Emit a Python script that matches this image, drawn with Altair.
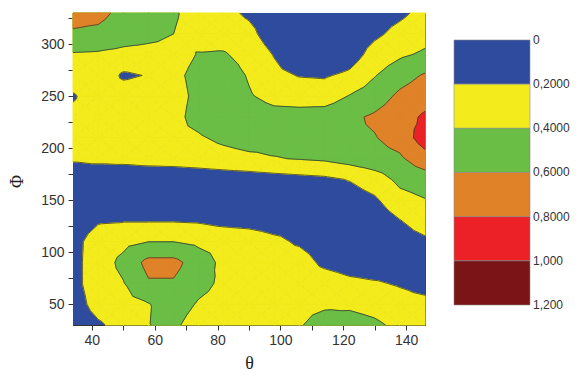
import altair as alt
import pandas as pd

# ---- data (grid of values) ----
theta = [34, 42, 50, 58, 66, 74, 82, 90, 98, 106, 114, 122, 130, 138, 146]
phi = [330, 310, 290, 270, 250, 230, 210, 190, 170, 150, 130, 110, 90, 70, 50, 30]
values = [
    [.66, .65, .55, .50, .42, .33, .25, .17, .08, .05, .05, .06, .10, .16, .26],   # 330
    [.58, .56, .50, .46, .40, .33, .30, .25, .10, .03, .02, .05, .16, .26, .33],   # 310
    [.38, .37, .34, .33, .33, .41, .42, .32, .19, .05, .02, .10, .28, .37, .43],   # 290
    [.30, .34, .17, .21, .36, .45, .52, .38, .25, .19, .18, .24, .39, .52, .62],   # 270
    [.18, .30, .30, .31, .34, .44, .55, .42, .33, .32, .30, .41, .50, .64, .72],   # 250
    [.25, .28, .30, .32, .35, .46, .55, .53, .48, .47, .50, .56, .63, .72, .83],   # 230
    [.28, .30, .32, .34, .37, .38, .44, .48, .47, .48, .52, .57, .59, .68, .90],   # 210
    [.22, .24, .25, .27, .28, .30, .33, .36, .39, .41, .43, .48, .53, .57, .72],   # 190
    [.10, .08, .07, .07, .07, .08, .09, .10, .12, .14, .16, .21, .30, .45, .50],   # 170
    [.05, .04, .04, .04, .04, .04, .05, .06, .07, .08, .09, .10, .17, .33, .39],   # 150
    [.08, .18, .19, .19, .19, .18, .14, .12, .10, .10, .06, .05, .08, .19, .30],   # 130
    [.13, .30, .35, .40, .40, .36, .35, .33, .25, .17, .08, .05, .05, .10, .16],   # 110
    [.14, .30, .45, .66, .66, .50, .35, .33, .30, .30, .15, .10, .08, .10, .08],   # 90
    [.14, .30, .39, .58, .58, .46, .36, .32, .33, .34, .32, .25, .22, .18, .12],   # 70
    [.10, .28, .33, .39, .50, .38, .33, .30, .33, .37, .38, .37, .34, .28, .26],   # 50
    [.05, .17, .28, .395, .44, .30, .30, .32, .35, .39, .45, .47, .43, .36, .32],  # 30
]
levels = [0.2, 0.4, 0.6, 0.8, 1.0]
band_colors = ["#2f4b9e", "#f3eb1b", "#6abd45", "#df8228", "#eb2127", "#7b1416"]
legend_edges = [0, 0.2, 0.4, 0.6, 0.8, 1.0, 1.2]
legend_labels = ["0", "0,2000", "0,4000", "0,6000", "0,8000", "1,000", "1,200"]
x_ticks = [40, 50, 60, 70, 80, 90, 100, 110, 120, 130, 140]
y_ticks = [50, 75, 100, 125, 150, 175, 200, 225, 250, 275, 300, 325]

# ---- contouring (linear interpolation on triangles) ----
tris = []
for r in range(len(phi) - 1):
    for c in range(len(theta) - 1):
        pts = [(theta[c], phi[r], values[r][c]),
               (theta[c + 1], phi[r], values[r][c + 1]),
               (theta[c + 1], phi[r + 1], values[r + 1][c + 1]),
               (theta[c], phi[r + 1], values[r + 1][c])]
        ctr = (sum(p[0] for p in pts) / 4, sum(p[1] for p in pts) / 4,
               sum(p[2] for p in pts) / 4)
        for k in range(4):
            tris.append([pts[k], pts[(k + 1) % 4], ctr])


def clip(tri, t):
    out, cross = [], []
    for i in range(3):
        p, q = tri[i], tri[(i + 1) % 3]
        pin, qin = p[2] >= t, q[2] >= t
        if pin:
            out.append((p[0], p[1]))
        if pin != qin:
            f = (t - p[2]) / (q[2] - p[2])
            pt = (p[0] + f * (q[0] - p[0]), p[1] + f * (q[1] - p[1]))
            out.append(pt)
            cross.append(pt)
    return out, cross


poly_frames = []
seg_rows = []
pid = 0
for li, t in enumerate(levels):
    rows = []
    for tri in tris:
        poly, cross = clip(tri, t)
        if len(poly) >= 3:
            for i, (a, b) in enumerate(poly + [poly[0]]):
                rows.append({"pid": pid, "i": i, "theta": a, "phi": b})
            pid += 1
        if len(cross) == 2:
            seg_rows.append({"t1": cross[0][0], "p1": cross[0][1],
                             "t2": cross[1][0], "p2": cross[1][1]})
    poly_frames.append(pd.DataFrame(rows))
seg_df = pd.DataFrame(seg_rows)

xscale = alt.Scale(domain=[min(theta), max(theta)], nice=False, zero=False)
yscale = alt.Scale(domain=[min(phi), max(phi)], nice=False, zero=False)
xaxis = alt.Axis(values=x_ticks, labelExpr="datum.value % 20 == 0 ? datum.label : ''",
                 grid=False, tickSize=5, labelPadding=3, title="θ",
                 titleFont="Liberation Serif", titleFontSize=18, titleFontWeight="normal",
                 titleColor="#222", titleY=38, titleBaseline="middle")
yaxis = alt.Axis(values=y_ticks, labelExpr="datum.value % 50 == 0 ? datum.label : ''",
                 grid=False, tickSize=5, labelPadding=4, title="Φ",
                 titleFont="Liberation Serif", titleFontSize=18, titleFontWeight="normal",
                 titleColor="#222", titleX=-56, titleY=168, titleBaseline="middle")

base_df = pd.DataFrame({"x0": [min(theta)], "x1": [max(theta)],
                        "y0": [min(phi)], "y1": [max(phi)]})
base = alt.Chart(base_df).mark_rect(color=band_colors[0]).encode(
    x=alt.X("x0:Q", scale=xscale, axis=xaxis), x2="x1:Q",
    y=alt.Y("y0:Q", scale=yscale, axis=yaxis), y2="y1:Q")

layers = [base]
for li, df in enumerate(poly_frames):
    if len(df) == 0:
        continue
    col = band_colors[li + 1]
    layers.append(
        alt.Chart(df).mark_line(fill=col, stroke=col, strokeWidth=1.0, strokeJoin="round").encode(
            x=alt.X("theta:Q", scale=xscale, axis=xaxis),
            y=alt.Y("phi:Q", scale=yscale, axis=yaxis),
            detail="pid:N",
            order=alt.Order("i:Q"))
    )
layers.append(
    alt.Chart(seg_df).mark_rule(color="#3e3e2a", strokeWidth=0.8).encode(
        x=alt.X("t1:Q", scale=xscale, axis=xaxis), x2="t2:Q",
        y=alt.Y("p1:Q", scale=yscale, axis=yaxis), y2="p2:Q")
)
main = alt.layer(*layers)

# ---- legend (colour bar), drawn to the right of the plot area ----
leg_df = pd.DataFrame({"lo": legend_edges[:-1], "hi": legend_edges[1:],
                       "band": list(range(len(band_colors)))})
lab_df = pd.DataFrame({"v": legend_edges, "label": legend_labels})
ly = alt.Scale(domain=[-0.12226, 1.29057], reverse=True, nice=False, zero=False)
leg_rect = alt.Chart(leg_df).mark_rect(stroke="#8a8a8a", strokeWidth=0.6).encode(
    x=alt.value(381), x2=alt.value(457),
    y=alt.Y("lo:Q", scale=ly, axis=None), y2="hi:Q",
    color=alt.Color("band:O", scale=alt.Scale(domain=list(range(len(band_colors))),
                                              range=band_colors), legend=None))
leg_text = alt.Chart(lab_df).mark_text(align="left", baseline="middle", font="Liberation Sans",
                                       fontSize=12, color="#333").encode(
    x=alt.value(460), y=alt.Y("v:Q", scale=ly, axis=None), text="label:N")
legend = alt.layer(leg_rect, leg_text)

chart = alt.layer(main, legend).resolve_scale(
    y="independent", color="independent"
).properties(
    width=352, height=312,
    autosize=alt.AutoSizeParams(type="none"),
    padding={"left": 65, "top": 5, "right": 146, "bottom": 46}
).configure_view(stroke="#444", strokeWidth=1).configure_axis(
    labelFont="Liberation Sans", labelFontSize=14, labelColor="#333",
    tickColor="#333", domainColor="#333"
)

chart.save("out.html", embed_options={"renderer": "svg", "actions": False})
